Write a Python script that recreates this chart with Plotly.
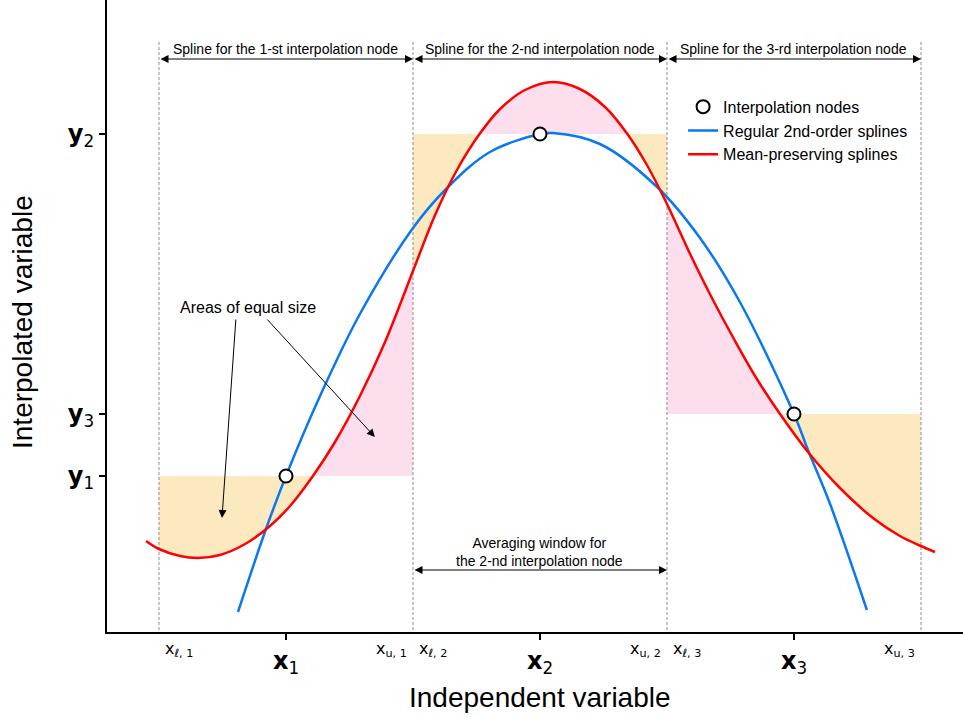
import plotly.graph_objects as go

# ---------------- data ----------------
node_x = [1.0, 2.0, 3.0]
node_y = [1.56, 4.98, 2.18]
win_lower = [0.5, 1.5, 2.5]
win_upper = [1.5, 2.5, 3.5]

blue_x = [0.811, 0.917, 1.0, 1.134, 1.291, 1.5, 1.634, 1.803, 2.0, 2.051,
          2.236, 2.461, 2.630, 2.787, 3.0, 3.055, 3.142, 3.287]
blue_y = [0.20, 1.00, 1.56, 2.36, 3.18, 4.04, 4.44, 4.80, 4.98, 4.99,
          4.88, 4.45, 3.94, 3.30, 2.18, 1.82, 1.28, 0.22]

red_x = [0.449, 0.5, 0.583, 0.654, 0.740, 0.839, 0.937, 1.016, 1.106, 1.193, 1.291, 1.390, 1.5,
         1.587, 1.673, 1.762, 1.843, 1.941, 2.053, 2.157, 2.256, 2.344, 2.421, 2.5,
         2.591, 2.677, 2.768, 2.854, 2.945, 3.055, 3.181, 3.311, 3.417, 3.5, 3.555]
red_y = [0.91, 0.83, 0.76, 0.74, 0.77, 0.88, 1.06, 1.26, 1.56, 1.90, 2.36, 2.90, 3.61,
         4.17, 4.62, 4.98, 5.23, 5.42, 5.50, 5.43, 5.25, 4.98, 4.67, 4.28,
         3.78, 3.34, 2.91, 2.53, 2.18, 1.80, 1.44, 1.14, 0.96, 0.86, 0.80]

node_labels = ["<b>x</b><sub>1</sub>", "<b>x</b><sub>2</sub>", "<b>x</b><sub>3</sub>"]
y_labels = ["<b>y</b><sub>1</sub>", "<b>y</b><sub>2</sub>", "<b>y</b><sub>3</sub>"]
lower_labels = ["x<sub>ℓ, 1</sub>", "x<sub>ℓ, 2</sub>", "x<sub>ℓ, 3</sub>"]
upper_labels = ["x<sub>u, 1</sub>", "x<sub>u, 2</sub>", "x<sub>u, 3</sub>"]
ordinals = ["1-st", "2-nd", "3-rd"]

# ---------------- styles ----------------
ORANGE = "rgb(253,233,192)"
PINK = "rgb(252,222,236)"
BLUE = "#0a78f0"
RED = "#ff0000"
ANN_FONT = "Liberation Sans, Arial, sans-serif"
MATH_FONT = "DejaVu Sans, sans-serif"

fig = go.Figure()

# ---------------- filled areas between level and red curve ----------------
for lo, hi, lvl in zip(win_lower, win_upper, node_y):
    pts = [(x, y) for x, y in zip(red_x, red_y) if lo - 1e-9 <= x <= hi + 1e-9]
    runs, cur = [], [pts[0]]
    for p in pts[1:]:
        cur.append(p)
        if abs(p[1] - lvl) < 1e-9:
            runs.append(cur)
            cur = [p]
    if len(cur) > 1:
        runs.append(cur)
    for run in runs:
        ys = [p[1] for p in run]
        below = sum(y - lvl for y in ys) < 0
        fig.add_trace(go.Scatter(x=[run[0][0], run[-1][0]], y=[lvl, lvl], mode="lines",
                                 line=dict(width=0), showlegend=False, hoverinfo="skip"))
        fig.add_trace(go.Scatter(x=[p[0] for p in run], y=ys, mode="lines",
                                 line=dict(width=0, shape="spline"), fill="tonexty",
                                 fillcolor=ORANGE if below else PINK,
                                 showlegend=False, hoverinfo="skip"))

# ---------------- dashed window boundaries ----------------
for b in sorted(set(win_lower + win_upper)):
    fig.add_trace(go.Scatter(x=[b, b], y=[5.90, 0], mode="lines",
                             line=dict(color="#8c8c8c", width=1, dash="3px,2px"),
                             showlegend=False, hoverinfo="skip"))

# ---------------- curves and nodes ----------------
fig.add_trace(go.Scatter(x=blue_x, y=blue_y, mode="lines", name="Regular 2nd-order splines",
                         line=dict(color=BLUE, width=2.5, shape="spline"), legendrank=2))
fig.add_trace(go.Scatter(x=red_x, y=red_y, mode="lines", name="Mean-preserving splines",
                         line=dict(color=RED, width=2.5, shape="spline"), legendrank=3))
fig.add_trace(go.Scatter(x=node_x, y=node_y, mode="markers", name="Interpolation nodes",
                         marker=dict(symbol="circle", size=13, color="white",
                                     line=dict(color="black", width=2)), legendrank=1))

ann = []
# top spline labels with double arrows
for lo, hi, o in zip(win_lower, win_upper, ordinals):
    ann.append(dict(x=hi, y=5.73, ax=lo, ay=5.73, xref="x", yref="y", axref="x", ayref="y",
                    text="", showarrow=True, arrowside="end+start", arrowhead=2, startarrowhead=2,
                    arrowsize=1.6, startarrowsize=1.6, arrowwidth=1, arrowcolor="black",
                    standoff=0, startstandoff=0))
    ann.append(dict(x=(lo + hi) / 2, y=5.83, xref="x", yref="y", showarrow=False,
                    text=f"Spline for the {o} interpolation node",
                    font=dict(family=ANN_FONT, size=14, color="black")))

# averaging window
ann.append(dict(x=win_upper[1], y=0.62, ax=win_lower[1], ay=0.62, xref="x", yref="y",
                axref="x", ayref="y", text="", showarrow=True, arrowside="end+start",
                arrowhead=2, startarrowhead=2, arrowsize=1.6, startarrowsize=1.6,
                arrowwidth=1, arrowcolor="black", standoff=0, startstandoff=0))
ann.append(dict(x=node_x[1], y=0.80, xref="x", yref="y", showarrow=False,
                text="Averaging window for<br>the 2-nd interpolation node",
                font=dict(family=ANN_FONT, size=14, color="black")))

# areas of equal size
ann.append(dict(x=0.850, y=3.25, xref="x", yref="y", showarrow=False,
                text="Areas of equal size", font=dict(family=ANN_FONT, size=16, color="black")))
for hx, hy, tx, ty in [(0.748, 1.14, 0.803, 3.14), (1.350, 1.95, 0.921, 3.14)]:
    ann.append(dict(x=hx, y=hy, ax=tx, ay=ty, xref="x", yref="y", axref="x", ayref="y",
                    text="", showarrow=True, arrowhead=2, arrowsize=1.6, arrowwidth=1,
                    arrowcolor="black", standoff=0))

# x tick labels
for x, t in zip(node_x, node_labels):
    ann.append(dict(x=x, y=-0.048, xref="x", yref="paper", showarrow=False, text=t,
                    yanchor="middle", font=dict(family=MATH_FONT, size=24, color="black")))
for x, t in zip(win_lower, lower_labels):
    ann.append(dict(x=x, y=-0.027, xref="x", yref="paper", showarrow=False, text=t,
                    xanchor="left", xshift=4, yanchor="middle",
                    font=dict(family=MATH_FONT, size=16, color="black")))
for x, t in zip(win_upper, upper_labels):
    ann.append(dict(x=x, y=-0.027, xref="x", yref="paper", showarrow=False, text=t,
                    xanchor="right", xshift=-4, yanchor="middle",
                    font=dict(family=MATH_FONT, size=16, color="black")))

# axis titles
ann.append(dict(x=0.506, y=-0.103, xref="paper", yref="paper", showarrow=False,
                text="Independent variable", yanchor="middle",
                font=dict(family=ANN_FONT, size=28, color="black")))
ann.append(dict(x=-0.0993, y=0.4905, xref="paper", yref="paper", showarrow=False,
                text="Interpolated variable", textangle=-90, xanchor="center",
                font=dict(family=ANN_FONT, size=28, color="black")))

fig.update_layout(
    width=963, height=718,
    margin=dict(l=107, r=0, t=0, b=86, pad=0),
    plot_bgcolor="white", paper_bgcolor="white",
    showlegend=True,
    legend=dict(x=0.673, y=0.858, xanchor="left", yanchor="top", traceorder="normal",
                font=dict(family=ANN_FONT, size=16, color="black"),
                bgcolor="rgba(0,0,0,0)", itemwidth=30),
    annotations=ann,
    xaxis=dict(range=[0.2953, 3.6654], showline=True, linecolor="black", linewidth=2,
               ticks="outside", tickvals=node_x, ticklen=6, tickwidth=1.5, tickcolor="black",
               showticklabels=False, showgrid=False, zeroline=False),
    yaxis=dict(range=[0, 6.32], showline=True, linecolor="black", linewidth=2,
               ticks="outside", tickvals=node_y, ticktext=y_labels, ticklen=6, tickwidth=1.5,
               tickcolor="black", tickfont=dict(family=MATH_FONT, size=24, color="black"),
               showgrid=False, zeroline=False),
)

fig.write_html("out.html")
